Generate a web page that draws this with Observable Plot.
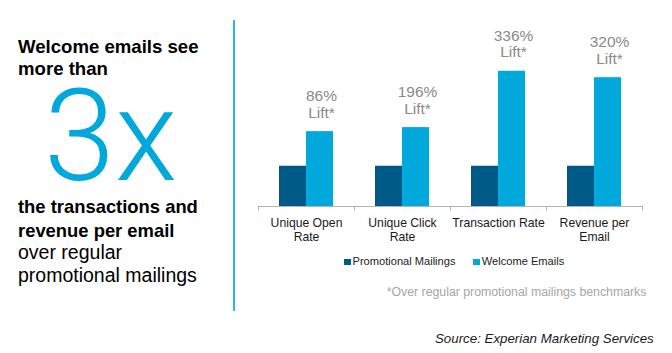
<!DOCTYPE html>
<html>
<head>
<meta charset="utf-8">
<script src="https://cdn.jsdelivr.net/npm/d3@7"></script>
<script src="https://cdn.jsdelivr.net/npm/@observablehq/plot@0.6"></script>
<style>
  html, body { margin: 0; padding: 0; background: #fff; }
  #wrap { position: relative; width: 672px; height: 353px; overflow: hidden; background: #fff;
          font-family: "Liberation Sans", Arial, sans-serif; }
  #wrap svg { position: absolute; left: 0; top: 0; }
  .t { position: absolute; white-space: nowrap; }
</style>
</head>
<body>
<div id="wrap"></div>
<script>
// ---- data ----
const categories = ["Unique Open\nRate", "Unique Click\nRate", "Transaction Rate", "Revenue per\nEmail"];
const series = ["Promotional Mailings", "Welcome Emails"];
const promotional = [1, 1, 1, 1];
const welcome = [1.86, 1.96, 3.36, 3.20];
const lifts = ["86%", "196%", "336%", "320%"];
const colors = ["#005a87", "#00a8dc"];
const headTop = ["Welcome emails see", "more than"];
const bigText = "3x";
const headBold = ["the transactions and", "revenue per email"];
const headRegular = ["over regular", "promotional mailings"];
const footnote = "*Over regular promotional mailings benchmarks";
const source = "Source: Experian Marketing Services";

const data = categories.flatMap((c, i) => [
  {category: c, series: series[0], value: promotional[i]},
  {category: c, series: series[1], value: welcome[i], lift: lifts[i]}
]);

const wrap = document.getElementById("wrap");

const chart = Plot.plot({
  width: 672,
  height: 353,
  marginLeft: 257,
  marginRight: 29,
  marginTop: 45,
  marginBottom: 147,
  style: {fontFamily: '"Liberation Sans", Arial, sans-serif', background: "transparent"},
  fx: {domain: categories, paddingInner: 0, paddingOuter: 0, label: null},
  x: {domain: series, paddingInner: 0, paddingOuter: 0.754, axis: null},
  y: {domain: [0, 4], axis: null},
  color: {domain: series, range: colors},
  marks: [
    Plot.barY(data, {fx: "category", x: "series", y: "value", fill: "series"}),
    Plot.ruleY([0], {stroke: "#b3b3b3", strokeWidth: 1}),
    Plot.frame({anchor: "left", stroke: "#b3b3b3", insetTop: 161, insetBottom: -3.5}),
    Plot.frame({anchor: "right", stroke: "#b3b3b3", insetTop: 161, insetBottom: -3.5, fx: () => categories[categories.length - 1]}),
    Plot.text(data.filter(d => d.lift), {
      fx: "category", x: "series", y: "value",
      text: d => `${d.lift}\nLift*`,
      lineAnchor: "bottom", dy: -14, dx: 1.5,
      fontSize: 15.5, lineHeight: 1.07, fill: "#8a8a8a"
    }),
    Plot.axisFx({anchor: "bottom", tickSize: 0, tickPadding: 11.3, fontSize: 12.2, lineHeight: 1.09, fill: "#1a1a1a", label: null})
  ]
});
wrap.appendChild(chart);

function put(text, x, base, fs, opts = {}) {
  const {weight = 400, style = "normal", color = "#000", family = '"Liberation Sans", Arial, sans-serif', asc = 0.8465} = opts;
  const d = document.createElement("div");
  d.className = "t";
  d.textContent = text;
  Object.assign(d.style, {
    left: x + "px", top: (base - asc * fs) + "px", fontSize: fs + "px", lineHeight: fs + "px",
    fontWeight: weight, fontStyle: style, color, fontFamily: family
  });
  wrap.appendChild(d);
  return d;
}

// left panel
headTop.forEach((t, i) => put(t, 18, 53.3 + i * 22.7, 18.6, {weight: 700}));
put(bigText, 44, 180, 128, {weight: 300, color: "#00a8dc", family: "Roboto, sans-serif", asc: 0.8418});
headBold.forEach((t, i) => put(t, 18, 214 + i * 23.5, 18.4, {weight: 700}));
headRegular.forEach((t, i) => put(t, 18, 259.6 + i * 22.8, 19.5, {weight: 400}));

// divider
const line = document.createElement("div");
Object.assign(line.style, {position: "absolute", left: "232.5px", top: "20px", width: "2px", height: "291px", background: "#29b5e0"});
wrap.appendChild(line);

// legend
const legendX = [344, 473.3];
series.forEach((s, i) => {
  const sq = document.createElement("div");
  Object.assign(sq.style, {position: "absolute", left: legendX[i] + "px", top: "258.5px", width: "6.5px", height: "6.5px", background: colors[i]});
  wrap.appendChild(sq);
  put(s, legendX[i] + 8.5, 265, 11.1, {color: "#222"});
});

put(footnote, 386.7, 296.7, 12.3, {color: "#a6a6a6"});
put(source, 435, 343.3, 13.3, {style: "italic", color: "#1a1a1a"});
</script>
</body>
</html>
